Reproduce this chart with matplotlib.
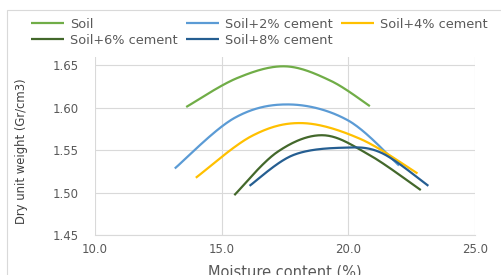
import numpy as np
import matplotlib
matplotlib.use("Agg")
import matplotlib.pyplot as plt
from matplotlib.patches import Rectangle

plt.rcParams['font.family'] = ['DejaVu Sans']

labels = ["Soil", "Soil+2% cement", "Soil+4% cement", "Soil+6% cement", "Soil+8% cement"]
colors = ["#70AD47", "#5B9BD5", "#FFC000", "#43682B", "#255E91"]

soil_x = [13.6, 15.6, 17.5, 19.3, 20.85]
soil_y = [1.601, 1.635, 1.649, 1.632, 1.602]
c2_x = [13.15, 15.5, 17.7, 20.0, 22.0]
c2_y = [1.5285, 1.588, 1.604, 1.585, 1.532]
c4_x = [13.98, 16.2, 18.2, 20.5, 22.73]
c4_y = [1.5175, 1.567, 1.582, 1.563, 1.5226]
c6_x = [15.5, 17.2, 19.0, 20.8, 22.86]
c6_y = [1.497, 1.548, 1.5677, 1.545, 1.503]
c8_x = [16.1, 17.8, 19.8, 21.3, 23.16]
c8_y = [1.508, 1.544, 1.553, 1.547, 1.508]

series_x = [soil_x, c2_x, c4_x, c6_x, c8_x]
series_y = [soil_y, c2_y, c4_y, c6_y, c8_y]

x_ticks = [10.0, 15.0, 20.0, 25.0]
y_ticks = [1.45, 1.50, 1.55, 1.60, 1.65]


def smooth(xs, ys, n=40):
    """Excel-like smoothed line (Bezier with Catmull-Rom control points)."""
    P = np.column_stack([xs, ys]).astype(float)
    m = len(P)
    out = []
    t = np.linspace(0, 1, n)
    for i in range(m - 1):
        p0 = P[i - 1] if i > 0 else P[i]
        p1 = P[i]
        p2 = P[i + 1]
        p3 = P[i + 2] if i + 2 < m else P[i + 1]
        c1 = p1 + (p2 - p0) / 6.0
        c2 = p2 - (p3 - p1) / 6.0
        seg = ((1 - t) ** 3)[:, None] * p1 + (3 * (1 - t) ** 2 * t)[:, None] * c1 \
            + (3 * (1 - t) * t ** 2)[:, None] * c2 + (t ** 3)[:, None] * p2
        out.append(seg if i == 0 else seg[1:])
    S = np.vstack(out)
    return S[:, 0], S[:, 1]


fig = plt.figure(figsize=(5.02, 2.75), dpi=100)
fig.patches.append(Rectangle((7 / 502, -0.1), 1.2, 1 - 10 / 275 + 0.1, transform=fig.transFigure,
                             fill=False, edgecolor="#d9d9d9", lw=0.8))

ax = fig.add_axes([95 / 502, 1 - 235 / 275, 380 / 502, (235 - 57) / 275])
handles = []
for xs, ys, c, lab in zip(series_x, series_y, colors, labels):
    sx, sy = smooth(xs, ys)
    h, = ax.plot(sx, sy, color=c, lw=1.6, label=lab, solid_capstyle="butt")
    handles.append(h)

ax.set_xlim(10, 25)
ax.set_ylim(1.45, 1.66)
ax.set_xticks(x_ticks)
ax.set_xticklabels([f"{v:.1f}" for v in x_ticks])
ax.set_yticks(y_ticks)
ax.set_yticklabels([f"{v:.2f}" for v in y_ticks])
ax.grid(True, color="#d9d9d9", lw=0.8)
ax.set_axisbelow(True)
for s in ["top", "right", "left"]:
    ax.spines[s].set_visible(False)
ax.spines["bottom"].set_color("#d9d9d9")
ax.tick_params(length=0, labelsize=8.5, colors="#595959")
ax.tick_params(axis="y", pad=12)
ax.tick_params(axis="x", pad=6)
ax.set_xlabel("Moisture content (%)", fontsize=10.5, color="#595959")
ax.set_ylabel("Dry unit weight (Gr/cm3)", fontsize=8.4, color="#404040")
ax.xaxis.set_label_coords(0.5, -0.165)
ax.yaxis.set_label_coords(-0.175, 0.47)

order = [0, 3, 1, 4, 2]
leg = fig.legend([handles[i] for i in order], [labels[i] for i in order], ncol=3,
                 loc="upper left", bbox_to_anchor=(31 / 502, 1 - 18 / 275), frameon=False,
                 fontsize=9.3, handlelength=2.55, handletextpad=0.5, columnspacing=0.6,
                 labelspacing=0.2, borderaxespad=0, borderpad=0)
for t in leg.get_texts():
    t.set_color("#595959")

fig.savefig("out.png", dpi=100)
